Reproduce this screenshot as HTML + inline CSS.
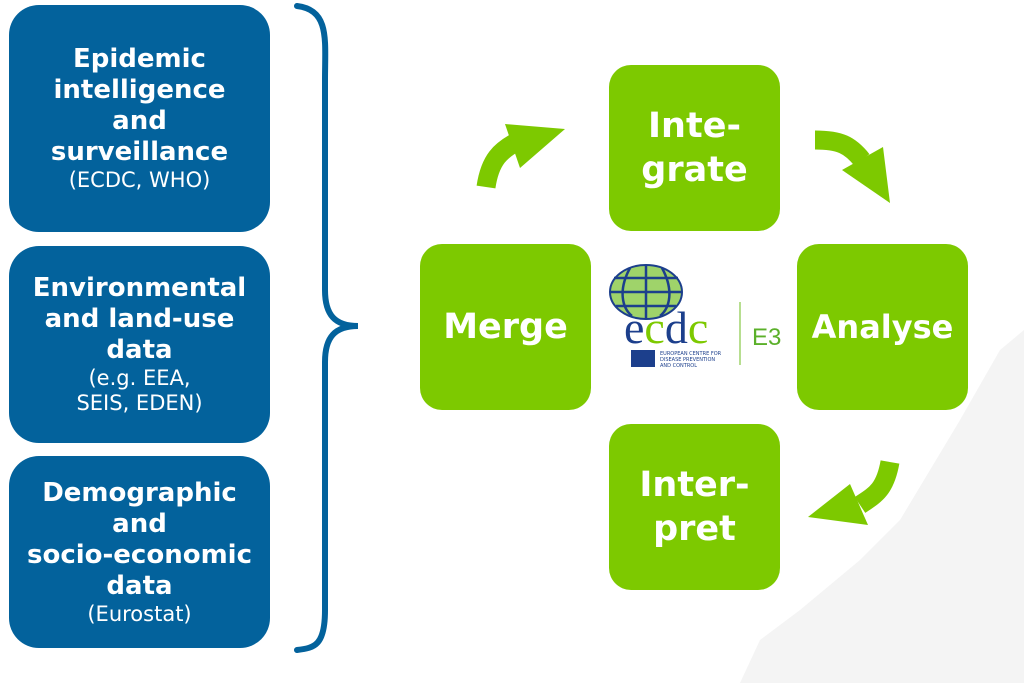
<!DOCTYPE html>
<html><head><meta charset="utf-8"><style>
body{margin:0;width:1024px;height:683px;background:#fff;position:relative;overflow:hidden;font-family:"DejaVu Sans","Liberation Sans",sans-serif}
.b{position:absolute;left:9px;width:261px;background:#03629c;border-radius:30px;color:#fff;text-align:center;display:flex;flex-direction:column;justify-content:center;font-weight:bold;font-size:26px;line-height:31px}
.b small{font-weight:normal;font-size:21px;line-height:25px;display:block}
.g{position:absolute;width:171px;height:166px;background:#7dc900;border-radius:22px;color:#fff;font-weight:bold;font-size:35px;line-height:44px;display:flex;align-items:center;justify-content:center;text-align:center}
</style></head><body>
<svg style="position:absolute;left:0;top:0" width="1024" height="683">
<path d="M740 683 L760 640 L800 610 L860 560 L900 520 L930 470 L960 420 L1000 350 L1024 330 L1024 683 Z" fill="#f4f4f4"/>
<path d="M297 6 C330 10 325 40 325 80 L325 290 C325 315 335 326 358 326 C335 326 325 337 325 362 L325 610 C325 645 315 648 297 650" fill="none" stroke="#03629c" stroke-width="6" stroke-linecap="round"/>
<path d="M486 187 C490 160 500 150 520 140" fill="none" stroke="#7dc900" stroke-width="19"/>
<polygon points="505,124 565,129 520,168" fill="#7dc900"/>
<path d="M815 140 C840 140 850 145 862 160" fill="none" stroke="#7dc900" stroke-width="19"/>
<polygon points="842,170 883,147 890,203" fill="#7dc900"/>
<path d="M890 462 C885 490 875 495 860 505" fill="none" stroke="#7dc900" stroke-width="19"/>
<polygon points="868,525 808,517 850,484" fill="#7dc900"/>
<ellipse cx="646" cy="292" rx="36" ry="27" fill="#9fd36a" stroke="#1c3f8c" stroke-width="2"/>
<path d="M611 292 H681 M614 278 H678 M616 306 H676 M646 265 V319 M630 268 C618 290 622 308 632 316 M662 268 C674 290 670 308 660 316" stroke="#1c3f8c" stroke-width="2.5" fill="none"/>
<text x="624" y="343" font-family="Liberation Serif" font-size="46" fill="#1c3f8c">e<tspan fill="#7dc900">c</tspan>d<tspan fill="#7dc900">c</tspan></text>
<rect x="631" y="350" width="24" height="17" fill="#1c3f8c"/>
<text x="660" y="355" font-size="5" fill="#1c3f8c">EUROPEAN CENTRE FOR</text>
<text x="660" y="361" font-size="5" fill="#1c3f8c">DISEASE PREVENTION</text>
<text x="660" y="367" font-size="5" fill="#1c3f8c">AND CONTROL</text>
<line x1="740" y1="302" x2="740" y2="365" stroke="#9fd36a" stroke-width="1.5"/>
<text x="752" y="345" font-size="24" fill="#5bb02a" font-family="Liberation Sans">E3</text>
</svg>
<div class="b" style="top:5px;height:227px">Epidemic<br>intelligence<br>and<br>surveillance<small>(ECDC, WHO)</small></div>
<div class="b" style="top:246px;height:197px">Environmental<br>and land-use<br>data<small>(e.g. EEA,<br>SEIS, EDEN)</small></div>
<div class="b" style="top:456px;height:192px">Demographic<br>and<br>socio-economic<br>data<small>(Eurostat)</small></div>
<div class="g" style="left:609px;top:65px">Inte-<br>grate</div>
<div class="g" style="left:420px;top:244px">Merge</div>
<div class="g" style="left:797px;top:244px;font-size:32px">Analyse</div>
<div class="g" style="left:609px;top:424px">Inter-<br>pret</div>
</body></html>
